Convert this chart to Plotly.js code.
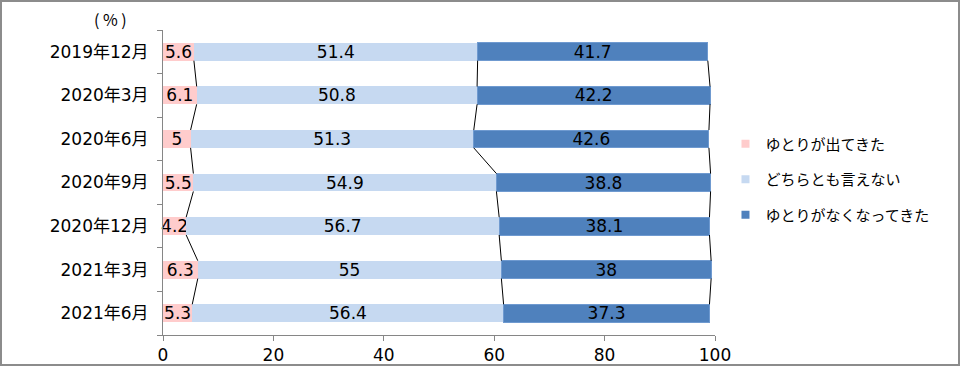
<!DOCTYPE html>
<html>
<head>
<meta charset="utf-8">
<script src="https://cdn.plot.ly/plotly-3.0.1.min.js"></script>
<style>
html,body{margin:0;padding:0;background:#fff;}
#wrap{position:relative;width:960px;height:366px;}
#chart{width:960px;height:366px;}
#frame{position:absolute;left:0;top:0;width:960px;height:366px;box-sizing:border-box;border:2px solid #8c8c8c;pointer-events:none;}
</style>
</head>
<body>
<div id="wrap"><div id="chart"></div><div id="frame"></div></div>
<script>
const categories = ["2019年12月","2020年3月","2020年6月","2020年9月","2020年12月","2021年3月","2021年6月"];
const seriesNames = ["ゆとりが出てきた","どちらとも言えない","ゆとりがなくなってきた"];
const yutoriDeta = [5.6, 6.1, 5, 5.5, 4.2, 6.3, 5.3];
const dochiramo = [51.4, 50.8, 51.3, 54.9, 56.7, 55, 56.4];
const yutoriNaku = [41.7, 42.2, 42.6, 38.8, 38.1, 38, 37.3];
const xTicks = [0, 20, 40, 60, 80, 100];

const colors = ["#FFCCCC", "#C6D9F1", "#4F81BD"];
const seriesVals = [yutoriDeta, dochiramo, yutoriNaku];
const pos = categories.map((c, i) => i);
const barW = 0.41;
const font = "'DejaVu Sans', 'Noto Sans CJK JP', sans-serif";
const cjkFont = "'Noto Sans CJK JP', sans-serif";

const traces = [];
seriesVals.forEach((vals, s) => {
  traces.push({
    type: 'bar', orientation: 'h', x: vals, y: pos, width: barW,
    marker: {color: colors[s], line: {color: s === 2 ? '#6F9AD0' : colors[s], width: s === 2 ? 1 : 0}},
    text: vals.map(v => String(v)), textposition: 'inside', insidetextanchor: 'middle',
    textangle: 0, constraintext: 'none', cliponaxis: false,
    textfont: {family: font, size: 17, color: '#000'},
    showlegend: false, hoverinfo: 'x+y'
  });
});

// series connector lines between consecutive bars
const cum = [];
for (let s = 0; s < 3; s++) {
  cum.push(categories.map((c, i) => seriesVals.slice(0, s + 1).reduce((a, arr) => a + arr[i], 0)));
}
cum.forEach(cv => {
  const xs = [], ys = [];
  for (let i = 0; i < categories.length - 1; i++) {
    xs.push(cv[i], cv[i + 1], null);
    ys.push(i + barW / 2, i + 1 - barW / 2, null);
  }
  traces.push({type: 'scatter', mode: 'lines', x: xs, y: ys, line: {color: '#000', width: 1},
    showlegend: false, hoverinfo: 'skip'});
});

// legend entries
seriesNames.forEach((n, s) => {
  traces.push({type: 'scatter', mode: 'markers', x: [null], y: [null], name: n,
    legendgroup: 'g' + s,
    marker: {symbol: 'square', size: 8, color: colors[s]}});
});

// y2 for boundary tick marks
traces.push({type: 'scatter', mode: 'markers', x: [null], y: [null], yaxis: 'y2', showlegend: false, hoverinfo: 'skip'});

const layout = {
  width: 960, height: 366,
  margin: {l: 163, r: 245, t: 30, b: 31},
  paper_bgcolor: '#fff', plot_bgcolor: '#fff',
  barmode: 'stack',
  font: {family: font, size: 17, color: '#000'},
  xaxis: {range: [0, 100], tickvals: xTicks, ticks: 'outside', ticklen: 5, tickcolor: '#868686',
    showgrid: false, zeroline: false, showline: true, linecolor: '#868686', linewidth: 1,
    tickfont: {family: font, size: 17, color: '#000'}, fixedrange: true},
  yaxis: {range: [6.5, -0.5], tickvals: pos, ticktext: categories, ticks: '', showgrid: false,
    zeroline: false, showline: true, linecolor: '#868686', linewidth: 1, ticklabelstandoff: 10,
    tickfont: {family: font, size: 17, color: '#000'}},
  yaxis2: {range: [6.5, -0.5], overlaying: 'y', side: 'left', tickvals: [-0.5,0.5,1.5,2.5,3.5,4.5,5.5,6.5],
    ticks: 'outside', ticklen: 5, tickcolor: '#868686', showticklabels: false, showgrid: false, zeroline: false},
  legend: {x: 1.019, xanchor: 'left', y: 0.68, yanchor: 'top', traceorder: 'grouped', tracegroupgap: 13,
    font: {family: cjkFont, size: 15, color: '#000'}, bgcolor: 'rgba(0,0,0,0)'},
  annotations: [{text: '( % )', xref: 'paper', yref: 'paper', x: -0.095, y: 1.035, xanchor: 'center', yanchor: 'middle',
    showarrow: false, font: {family: cjkFont, size: 16, color: '#000'}}]
};

Plotly.newPlot('chart', traces, layout, {displayModeBar: false, staticPlot: true});
</script>
</body>
</html>
